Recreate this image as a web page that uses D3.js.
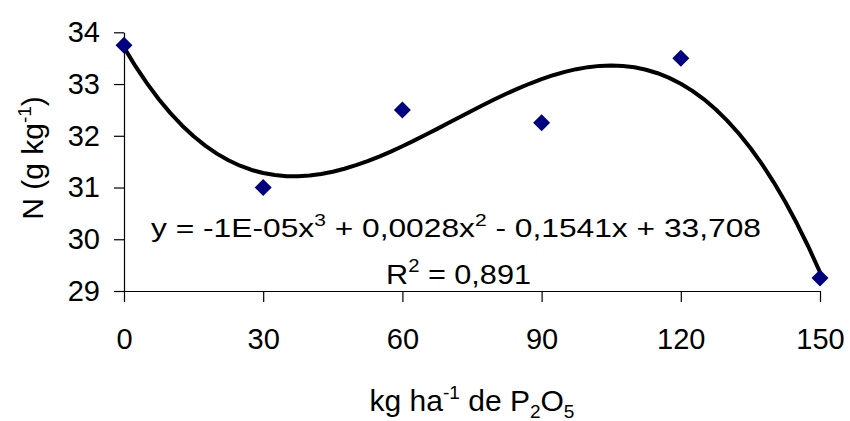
<!DOCTYPE html>
<html>
<head>
<meta charset="utf-8">
<script src="https://cdn.jsdelivr.net/npm/d3@7"></script>
<style>
  html, body { margin: 0; padding: 0; background: #fff; }
  svg { display: block; font-family: "Liberation Sans", Arial, sans-serif; }
</style>
</head>
<body>
<svg id="chart" width="850" height="421"></svg>
<script>
// ---- data ----
const doses = [0, 30, 60, 90, 120, 150];                 // kg ha-1 de P2O5
const nValues = [33.75, 31.0, 32.5, 32.25, 33.5, 29.25];  // N (g kg-1)
const xTicks = [0, 30, 60, 90, 120, 150];
const yTicks = [29, 30, 31, 32, 33, 34];
const equationText = ["y = -1E-05x", "3", " + 0,0028x", "2", " - 0,1541x + 33,708"];
const r2Text = ["R", "2", " = 0,891"];

// ---- cubic least-squares trendline (as Excel's polynomial trendline) ----
function polyFit(xs, ys, deg) {
  const n = deg + 1;
  const A = Array.from({length: n}, () => new Array(n + 1).fill(0));
  for (let r = 0; r < n; r++) {
    for (let c = 0; c < n; c++) A[r][c] = d3.sum(xs, x => Math.pow(x, r + c));
    A[r][n] = d3.sum(xs, (x, i) => ys[i] * Math.pow(x, r));
  }
  for (let i = 0; i < n; i++) {
    let p = i;
    for (let k = i + 1; k < n; k++) if (Math.abs(A[k][i]) > Math.abs(A[p][i])) p = k;
    [A[i], A[p]] = [A[p], A[i]];
    for (let k = i + 1; k < n; k++) {
      const f = A[k][i] / A[i][i];
      for (let c = i; c <= n; c++) A[k][c] -= f * A[i][c];
    }
  }
  const coef = new Array(n).fill(0);
  for (let i = n - 1; i >= 0; i--) {
    let s = A[i][n];
    for (let c = i + 1; c < n; c++) s -= A[i][c] * coef[c];
    coef[i] = s / A[i][i];
  }
  return coef;
}
const coef = polyFit(doses, nValues, 3);
const trend = x => coef.reduce((s, c, i) => s + c * Math.pow(x, i), 0);
const trendX = d3.range(0, 150.001, 2.5);

// ---- layout ----
const svg = d3.select("#chart");
const x = d3.scaleLinear().domain([0, 150]).range([124, 820]);
const y = d3.scaleLinear().domain([29, 34]).range([291, 32.3]);
const fontSize = 29;

// y axis
const gy = svg.append("g").attr("transform", `translate(${x(0)},0)`)
  .call(d3.axisLeft(y).tickValues(yTicks).tickSize(10).tickSizeOuter(0).tickPadding(14).tickFormat(d3.format("d")));
gy.selectAll("text").attr("font-size", fontSize).attr("font-family", "Liberation Sans, Arial, sans-serif").attr("fill", "#000");
gy.selectAll("line,path").attr("stroke", "#000").attr("stroke-width", 1.2);

// x axis
const gx = svg.append("g").attr("transform", `translate(0,${y(29)})`)
  .call(d3.axisBottom(x).tickValues(xTicks).tickSize(11).tickSizeOuter(0).tickPadding(26).tickFormat(d3.format("d")));
gx.selectAll("text").attr("font-size", fontSize).attr("font-family", "Liberation Sans, Arial, sans-serif").attr("fill", "#000");
gx.selectAll("line,path").attr("stroke", "#000").attr("stroke-width", 1.2);

// trendline
svg.append("path")
  .datum(trendX)
  .attr("fill", "none")
  .attr("stroke", "#000")
  .attr("stroke-width", 4)
  .attr("stroke-linejoin", "round")
  .attr("d", d3.line().x(d => x(d)).y(d => y(trend(d))));

// markers
svg.append("g").selectAll("path").data(doses).join("path")
  .attr("transform", (d, i) => `translate(${x(d)},${y(nValues[i])})`)
  .attr("d", "M0,-8.5L8.5,0L0,8.5L-8.5,0Z")
  .attr("fill", "#000080");

// equation label
function richText(parts, left, baseline, size, width) {
  const t = svg.append("text").attr("x", left).attr("y", baseline)
    .attr("font-size", size).attr("fill", "#000")
    .attr("textLength", width).attr("lengthAdjust", "spacingAndGlyphs");
  parts.forEach((p, i) => {
    const sup = i % 2 === 1;
    const ts = t.append("tspan").text(p);
    if (sup) ts.attr("font-size", size * 0.66).attr("dy", -size * 0.42);
    else if (i > 0) ts.attr("dy", size * 0.42);
  });
  return t;
}
richText(equationText, 151, 236.5, 25.5, 610);
richText(r2Text, 386, 284, 28, 145);

// axis titles
const xt = svg.append("text").attr("x", 472).attr("y", 411).attr("text-anchor", "middle")
  .attr("font-size", 30).attr("fill", "#000");
xt.append("tspan").text("kg ha");
xt.append("tspan").text("-1").attr("font-size", 19).attr("dy", -12);
xt.append("tspan").text(" de P").attr("dy", 12);
xt.append("tspan").text("2").attr("font-size", 19).attr("dy", 7);
xt.append("tspan").text("O").attr("dy", -7);
xt.append("tspan").text("5").attr("font-size", 19).attr("dy", 7);

const yt = svg.append("text").attr("transform", "translate(43,158) rotate(-90)")
  .attr("text-anchor", "middle").attr("font-size", 30).attr("fill", "#000");
yt.append("tspan").text("N (g kg");
yt.append("tspan").text("-1").attr("font-size", 19).attr("dy", -12);
yt.append("tspan").text(")").attr("dy", 12);
</script>
</body>
</html>
